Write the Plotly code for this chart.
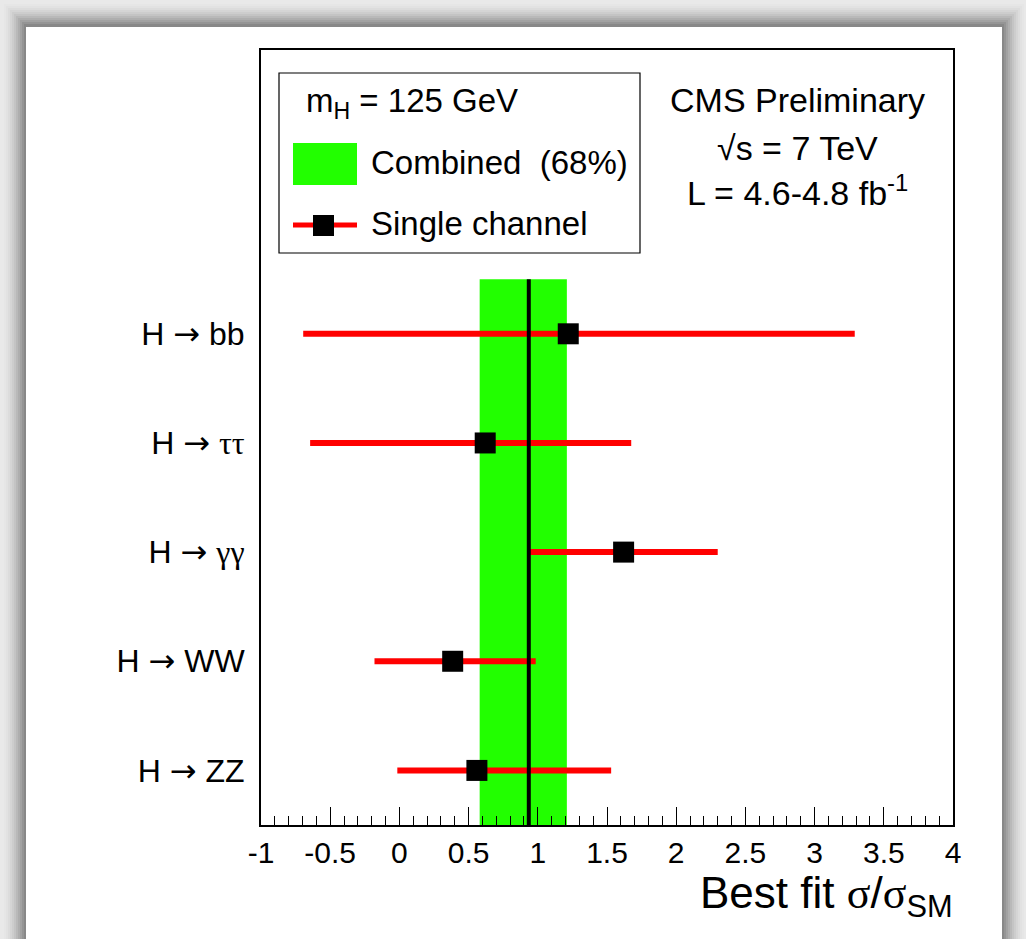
import plotly.graph_objects as go

# ---- data ----
channels = ["H → ZZ", "H → WW", "H → γγ", "H → ττ", "H → bb"]
channel_pos = [1, 2, 3, 4, 5]
best_fit = [0.56, 0.385, 1.62, 0.62, 1.22]
err_lo = [-0.015, -0.18, 0.94, -0.645, -0.695]
err_hi = [1.53, 0.985, 2.30, 1.675, 3.29]

combined_best = 0.935
combined_lo = 0.58
combined_hi = 1.21
band_y = [0.5, 5.5]

x_ticks = [-1, -0.5, 0, 0.5, 1, 1.5, 2, 2.5, 3, 3.5, 4]
x_tick_labels = ["-1", "-0.5", "0", "0.5", "1", "1.5", "2", "2.5", "3", "3.5", "4"]

# ---- layout geometry (pixels) ----
W, H = 1026, 939
L, R, T, B = 261, 953, 50, 825
PW, PH = R - L, B - T


def px(xp):
    return (xp - L) / PW


def py(yp):
    return (B - yp) / PH


SANS = "Liberation Sans, Arial, Helvetica, sans-serif"
YFONT = 32
TITLE = 44


def serif(s, size):
    return "<span style='font-family:Liberation Serif;font-size:%dpx'>%s</span>" % (size, s)


def arrow(size):
    return "<span style='font-family:DejaVu Sans;font-size:%dpx'>→</span>" % size


tick_text_y = []
for c in channels:
    head, tail = c.split("→")
    tail = tail.strip()
    if tail in ("ττ", "γγ"):
        tail = serif(tail, YFONT)
    tick_text_y.append(head.strip() + " " + arrow(YFONT) + " " + tail)

fig = go.Figure()

# combined band
fig.add_trace(go.Scatter(
    x=[combined_lo, combined_hi, combined_hi, combined_lo, combined_lo],
    y=[band_y[0], band_y[0], band_y[1], band_y[1], band_y[0]],
    fill="toself", fillcolor="#22ff00", mode="lines",
    line=dict(width=0, color="#22ff00"), hoverinfo="skip", showlegend=False))

# single channels
fig.add_trace(go.Scatter(
    x=best_fit, y=channel_pos, mode="markers",
    marker=dict(symbol="square", size=21, color="black", line=dict(width=0)),
    error_x=dict(type="data", symmetric=False,
                 array=[h - c for h, c in zip(err_hi, best_fit)],
                 arrayminus=[c - l for c, l in zip(best_fit, err_lo)],
                 color="#ff0000", thickness=6, width=0),
    showlegend=False))

# combined best fit line
fig.add_trace(go.Scatter(
    x=[combined_best, combined_best], y=band_y, mode="lines",
    line=dict(color="black", width=4), hoverinfo="skip", showlegend=False))

shapes = []
# window shadow / background
shapes.append(dict(type="rect", xref="paper", yref="paper",
                   x0=px(0), x1=px(W), y0=py(0), y1=py(H),
                   fillcolor="#e9e9e9", line=dict(width=0), layer="below"))
steps = 12
for i in range(steps):
    f = i / (steps - 1)
    g = int(0xe9 - (0xe9 - 0x88) * f ** 1.6)
    col = "#%02x%02x%02x" % (g, g, g)
    shapes.append(dict(type="rect", xref="paper", yref="paper",
                       x0=px(2 + i * 2), x1=px(W - i * 2),
                       y0=py(2 + i * 2), y1=py(H + 10),
                       fillcolor=col, line=dict(width=0), layer="below"))
shapes.append(dict(type="rect", xref="paper", yref="paper",
                   x0=px(26), x1=px(1002), y0=py(27), y1=py(H + 10),
                   fillcolor="white", line=dict(width=0), layer="below"))

# legend box
shapes.append(dict(type="rect", xref="paper", yref="paper",
                   x0=px(279), x1=px(640), y0=py(253), y1=py(73),
                   fillcolor="white", line=dict(width=1.2, color="black")))
shapes.append(dict(type="rect", xref="paper", yref="paper",
                   x0=px(293), x1=px(357), y0=py(185), y1=py(143),
                   fillcolor="#22ff00", line=dict(width=0)))
shapes.append(dict(type="line", xref="paper", yref="paper",
                   x0=px(293), x1=px(357), y0=py(225), y1=py(225),
                   line=dict(width=5, color="#ff0000")))
shapes.append(dict(type="rect", xref="paper", yref="paper",
                   x0=px(313), x1=px(334), y0=py(236), y1=py(215),
                   fillcolor="black", line=dict(width=0)))

annotations = []
LEG = 33
CMS = 34
annotations.append(dict(xref="paper", yref="paper", x=px(304), y=py(103),
                        xanchor="left", yanchor="middle", showarrow=False,
                        text="m<sub>H</sub> = 125 GeV",
                        font=dict(family=SANS, size=LEG, color="black")))
annotations.append(dict(xref="paper", yref="paper", x=px(369), y=py(163),
                        xanchor="left", yanchor="middle", showarrow=False,
                        text="Combined  (68%)",
                        font=dict(family=SANS, size=LEG, color="black")))
annotations.append(dict(xref="paper", yref="paper", x=px(369), y=py(224),
                        xanchor="left", yanchor="middle", showarrow=False,
                        text="Single channel",
                        font=dict(family=SANS, size=LEG, color="black")))
annotations.append(dict(xref="paper", yref="paper", x=px(797), y=py(100),
                        xanchor="center", yanchor="middle", showarrow=False,
                        text="CMS Preliminary",
                        font=dict(family=SANS, size=CMS, color="black")))
annotations.append(dict(xref="paper", yref="paper", x=px(797), y=py(148),
                        xanchor="center", yanchor="middle", showarrow=False,
                        text="√s = 7 TeV",
                        font=dict(family=SANS, size=CMS, color="black")))
annotations.append(dict(xref="paper", yref="paper", x=px(797), y=py(190),
                        xanchor="center", yanchor="middle", showarrow=False,
                        text="L = 4.6-4.8 fb<sup>-1</sup>",
                        font=dict(family=SANS, size=CMS, color="black")))
annotations.append(dict(xref="paper", yref="paper", x=px(955), y=py(866),
                        xanchor="right", yanchor="top", showarrow=False,
                        text="Best fit " + serif("σ", TITLE) + "/" + serif("σ", TITLE) + "<sub>SM</sub>",
                        font=dict(family=SANS, size=TITLE, color="black")))

fig.update_layout(
    width=W, height=H,
    margin=dict(l=L, r=W - R, t=T, b=H - B, pad=0),
    paper_bgcolor="white", plot_bgcolor="white",
    shapes=shapes, annotations=annotations,
    showlegend=False,
    xaxis=dict(range=[-1, 4], tickvals=x_ticks, ticktext=x_tick_labels,
               ticks="inside", ticklen=18, tickwidth=1, tickcolor="black",
               minor=dict(dtick=0.1, ticks="inside", ticklen=9, tickwidth=1, tickcolor="black"),
               showline=True, linewidth=2, linecolor="black", mirror=True,
               showgrid=False, zeroline=False,
               tickfont=dict(family=SANS, size=30, color="black")),
    yaxis=dict(range=[0.5, 7.6], tickvals=channel_pos, ticktext=tick_text_y,
               ticks="", showline=True, linewidth=2, linecolor="black", mirror=True,
               showgrid=False, zeroline=False, ticklabelstandoff=8,
               tickfont=dict(family=SANS, size=YFONT, color="black")),
)

fig.write_html("out.html")
